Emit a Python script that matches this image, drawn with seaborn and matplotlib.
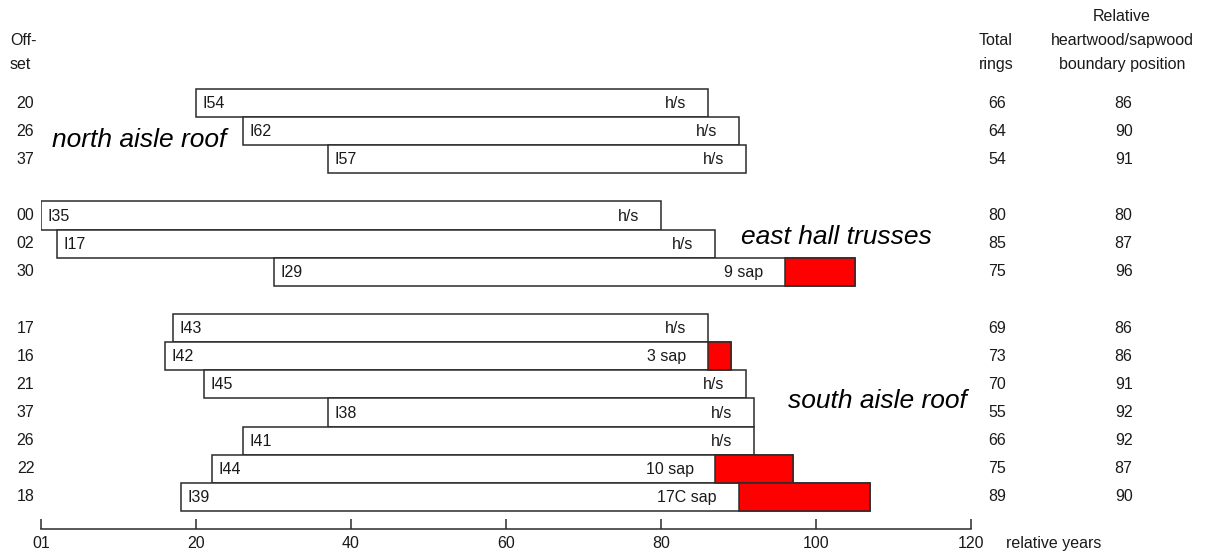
import matplotlib
matplotlib.use("Agg")
import matplotlib.pyplot as plt
import seaborn as sns
import pandas as pd

# Samples per group, listed top to bottom
samples = ["I54", "I62", "I57",
           "I35", "I17", "I29",
           "I43", "I42", "I45", "I38", "I41", "I44", "I39"]
offsets = [20, 26, 37,
           0, 2, 30,
           17, 16, 21, 37, 26, 22, 18]
total_rings = [66, 64, 54,
               80, 85, 75,
               69, 73, 70, 55, 66, 75, 89]
boundary = [86, 90, 91,
            80, 87, 96,
            86, 86, 91, 92, 92, 87, 90]
end_labels = ["h/s", "h/s", "h/s",
              "h/s", "h/s", "9 sap",
              "h/s", "3 sap", "h/s", "h/s", "h/s", "10 sap", "17C sap"]
group_sizes = [3, 3, 7]
group_names = ["north aisle roof", "east hall trusses", "south aisle roof"]

tick_values = [0, 20, 40, 60, 80, 100, 120]
tick_labels = ["01", "20", "40", "60", "80", "100", "120"]

sns.set_theme(style="white")
plt.rcParams["font.family"] = ["Liberation Sans", "DejaVu Sans"]

# Row positions: one blank row between groups
rows = []
r = 0
for g in group_sizes:
    for _ in range(g):
        rows.append(r)
        r += 1
    r += 1

df = pd.DataFrame({
    "sample": samples, "offset": offsets, "rings": total_rings,
    "boundary": boundary, "label": end_labels, "row": rows,
})
df["end"] = df["offset"] + df["rings"]
df["sap"] = df["end"] - df["boundary"]

W, H = 1214, 555
fig = plt.figure(figsize=(W / 100, H / 100), dpi=100)
ax = fig.add_axes([41 / W, 1 - 529 / H, (971 - 41) / W, 529 / H])

edge = "#2b2b2b"
ax.barh(df["row"], df["rings"], left=df["offset"], height=1.0,
        color="white", edgecolor=edge, linewidth=1.1, zorder=2)
sap = df[df["sap"] > 0]
ax.barh(sap["row"], sap["sap"], left=sap["boundary"], height=1.0,
        color="#ff0000", edgecolor=edge, linewidth=1.1, zorder=3)

fs = 11.5
txt = "#1a1a1a"
for _, d in df.iterrows():
    ax.text(d["offset"] + 0.9, d["row"] + 0.02, d["sample"], ha="left", va="center",
            fontsize=fs, color=txt, zorder=4)
    ax.text(d["boundary"] - 2.8, d["row"] + 0.02, d["label"], ha="right", va="center",
            fontsize=fs, color=txt, zorder=4)
    ax.text(-2.0, d["row"], f"{d['offset']:02d}", ha="center", va="center",
            fontsize=fs, color=txt, clip_on=False)
    ax.text(123.4, d["row"], f"{d['rings']}", ha="center", va="center",
            fontsize=fs, color=txt, clip_on=False)
    ax.text(139.7, d["row"], f"{d['boundary']}", ha="center", va="center",
            fontsize=fs, color=txt, clip_on=False)

# Column headers
ax.text(-4.0, -1.78, "Off-\nset", ha="left", va="center", fontsize=fs,
        color=txt, linespacing=1.75, clip_on=False)
ax.text(123.2, -1.78, "Total\nrings", ha="center", va="center", fontsize=fs,
        color=txt, linespacing=1.75, clip_on=False)
ax.text(139.5, -2.22, "Relative\nheartwood/sapwood\nboundary position", ha="center",
        va="center", fontsize=fs, color=txt, linespacing=1.75, clip_on=False)

# Group captions
gfs = 19
ax.text(1.4, 1.3, group_names[0], style="italic", fontsize=gfs, ha="left",
        va="center", color="black", zorder=5)
ax.text(90.3, 4.75, group_names[1], style="italic", fontsize=gfs, ha="left",
        va="center", color="black", zorder=5)
ax.text(96.4, 10.6, group_names[2], style="italic", fontsize=gfs, ha="left",
        va="center", color="black", zorder=5)

ax.set_xlim(0, 120)
ax.set_ylim((529 - 103) / 28.14, -103 / 28.14)
ax.set_yticks([])
ax.set_xticks(tick_values)
ax.set_xticklabels(tick_labels, fontsize=fs, color=txt)
ax.tick_params(axis="x", direction="in", length=7, width=1.1, color=edge,
               pad=5, bottom=True)
for s in ["top", "left", "right"]:
    ax.spines[s].set_visible(False)
ax.spines["bottom"].set_color(edge)
ax.spines["bottom"].set_linewidth(1.1)
ax.set_facecolor("none")
ax.text(124.5, (529 - 103) / 28.14 + 0.5, "relative years", ha="left", va="center",
        fontsize=fs, color=txt, clip_on=False)
ax.grid(False)

fig.savefig("out.png", dpi=100, facecolor="white")
